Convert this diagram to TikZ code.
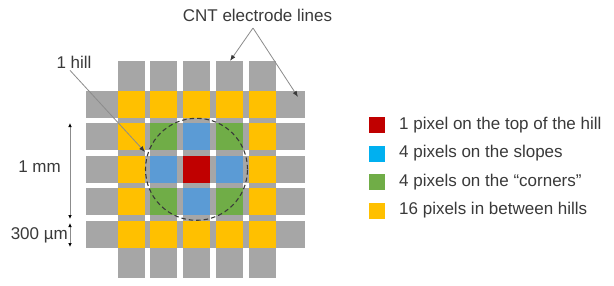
\documentclass[tikz,border=0pt]{standalone}
\usepackage{fontspec}
\setmainfont{Liberation Sans}
\usetikzlibrary{arrows.meta}
\definecolor{cgray}{HTML}{A6A6A6}
\definecolor{cyel}{HTML}{FFC000}
\definecolor{cgrn}{HTML}{70AD47}
\definecolor{cblu}{HTML}{5B9BD5}
\definecolor{clblu}{HTML}{00B0F0}
\definecolor{cred}{HTML}{C00000}
\definecolor{txt}{HTML}{3A3A3A}
\definecolor{arrgray}{HTML}{8C8C8C}
\begin{document}
\begin{tikzpicture}[x=1bp,y=-1bp,
  font=\fontsize{17bp}{20bp}\selectfont, text=txt,
  legsq/.style={minimum size=16bp, inner sep=0pt, draw=none},
  legtxt/.style={anchor=west, inner sep=0pt},
  lbl/.style={inner sep=0pt},
  ptr/.style={draw=arrgray, line width=0.8bp, -{Latex[length=6bp,width=4.5bp,color=txt,fill=txt]}},
  dimarr/.style={draw=arrgray, line width=0.7bp, {Latex[length=4bp,width=3.5bp,color=black,fill=black]}-{Latex[length=4bp,width=3.5bp,color=black,fill=black]}}]
\useasboundingbox[fill=white] (0,0) rectangle (614,285);
% electrode strips
\foreach \j in {0,...,4}
  \fill[cgray] (86,{91+32.4*\j}) rectangle (305,{118+32.4*\j});
\foreach \i in {0,...,4}
  \fill[cgray] ({117.5+32.75*\i},61) rectangle ({144.5+32.75*\i},278);
% pixels
\foreach \i/\j/\c in {0/0/cyel,1/0/cyel,2/0/cyel,3/0/cyel,4/0/cyel,
  0/1/cyel,1/1/cgrn,2/1/cblu,3/1/cgrn,4/1/cyel,
  0/2/cyel,1/2/cblu,2/2/cred,3/2/cblu,4/2/cyel,
  0/3/cyel,1/3/cgrn,2/3/cblu,3/3/cgrn,4/3/cyel,
  0/4/cyel,1/4/cyel,2/4/cyel,3/4/cyel,4/4/cyel}
  \fill[\c] ({117.5+32.75*\i},{91+32.4*\j}) rectangle ({144.5+32.75*\i},{118+32.4*\j});
% hill circle
\draw[txt, line width=1.1bp, dash pattern=on 4.5bp off 3bp] (196.5,169.3) circle[radius=51bp];
% labels
\node[lbl] (hill) at (74,62) {1 hill};
\coordinate (hilltip) at (145,152);
\draw[ptr] ([xshift=-4bp,yshift=-2bp]hill.south) -- (hilltip);
\node[lbl] (cnt) at (257.5,15) {CNT electrode lines};
\coordinate (apex) at (253,28);
\coordinate (tipa) at (230,61);
\coordinate (tipb) at (298,97);
\draw[ptr] (apex) -- (tipa);
\draw[ptr] (apex) -- (tipb);
% dimensions
\coordinate (d1) at (70,123);
\coordinate (d2) at (70,219);
\coordinate (d3) at (70,223);
\coordinate (d4) at (70,247);
\draw[dimarr] (d1) -- (d2);
\draw[dimarr] (d3) -- (d4);
\node[lbl, anchor=east] (mm) at (61,167) {1 mm};
\node[lbl, anchor=east] (um) at (68,235) {300 µm};
% legend
\node[legsq, fill=cred] (l1) at (376.5,125) {};
\node[legsq, fill=clblu] (l2) at (376.5,153.5) {};
\node[legsq, fill=cgrn] (l3) at (376.5,182) {};
\node[legsq, fill=cyel] (l4) at (376.5,210.5) {};
\node[legtxt] (t1) at (399,125) {1 pixel on the top of the hill};
\node[legtxt] (t2) at (399,153.5) {4 pixels on the slopes};
\node[legtxt] (t3) at (399,182) {4 pixels on the “corners”};
\node[legtxt] (t4) at (399,210.5) {16 pixels in between hills};
\end{tikzpicture}
\end{document}
